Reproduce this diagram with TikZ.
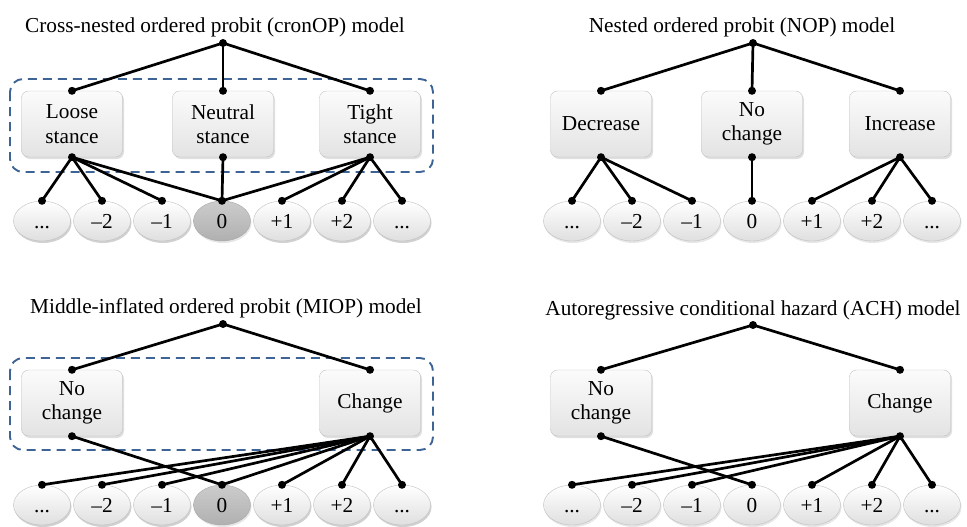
\documentclass[tikz,border=0pt]{standalone}
\usepackage{fontspec}
\setmainfont{Liberation Serif}
\usepackage{xcolor}
\usetikzlibrary{positioning, shapes.geometric, shadows}
\definecolor{dashblue}{RGB}{62,100,150}

\begin{document}
\begin{tikzpicture}[
    x=1pt, y=-1pt,
    every node/.style={font=\fontsize{21.3}{24.5}\selectfont},
    box/.style={draw=gray!50, rounded corners=7pt, align=center, minimum width=101pt, minimum height=66pt,
        top color=gray!3, bottom color=gray!22, drop shadow={opacity=0.25, shadow xshift=1.5pt, shadow yshift=-2pt}},
    cat/.style={ellipse, draw=gray!50, minimum width=57pt, minimum height=40pt, inner sep=0pt,
        text height=14.4pt, text depth=0pt,
        top color=white, bottom color=gray!25, drop shadow={opacity=0.2, shadow xshift=1pt, shadow yshift=-2pt}},
    zero/.style={top color=gray!40, bottom color=gray!62, draw=gray!70},
    link/.style={line width=2.7pt},
    group/.style={draw=dashblue, line width=1.9pt, dash pattern=on 9pt off 6pt, rounded corners=13pt}
]
\useasboundingbox (0,0) rectangle (967,527);

% --- Cross-nested ordered probit ---
\node at (215,27) {Cross-nested ordered probit (cronOP) model};
\draw[group] (10,79) rectangle (433,172);
\coordinate (c_root) at (223,43);
\node[box] (c_loose) at (72,124) {Loose\\stance};
\node[box] (c_neutral) at (223,124) {Neutral\\stance};
\node[box] (c_tight) at (370,124) {Tight\\stance};
\foreach \i/\lab/\sty in {1/{...}/cat, 2/{--2}/cat, 3/{--1}/cat, 4/0/zero, 5/{+1}/cat, 6/{+2}/cat, 7/{...}/cat}
    \node[cat, style=\sty] (c_e\i) at (42+60*\i-60,221) {\lab};

\draw[link] (c_root) -- (c_loose.north);
\draw[link] (c_root) -- (c_neutral.north);
\draw[link] (c_root) -- (c_tight.north);
\foreach \i in {1,2,3,4}
    \draw[link] (c_loose.south) -- (c_e\i.north);
\draw[link] (c_neutral.south) -- (c_e4.north);
\foreach \i in {4,5,6,7}
    \draw[link] (c_tight.south) -- (c_e\i.north);
\foreach \p in {c_root, c_loose.north, c_neutral.north, c_tight.north, c_loose.south, c_neutral.south, c_tight.south,
    c_e1.north, c_e2.north, c_e3.north, c_e4.north, c_e5.north, c_e6.north, c_e7.north}
    \fill (\p) circle (4pt);

% --- Nested ordered probit ---
\node at (742,27) {Nested ordered probit (NOP) model};
\coordinate (n_root) at (753,43);
\node[box] (n_dec) at (601,124) {Decrease};
\node[box] (n_none) at (752,124) {No\\change};
\node[box] (n_inc) at (900,124) {Increase};
\foreach \i/\lab in {1/{...}, 2/{--2}, 3/{--1}, 4/0, 5/{+1}, 6/{+2}, 7/{...}}
    \node[cat] (n_e\i) at (572+60*\i-60,221) {\lab};

\draw[link] (n_root) -- (n_dec.north);
\draw[link] (n_root) -- (n_none.north);
\draw[link] (n_root) -- (n_inc.north);
\foreach \i in {1,2,3}
    \draw[link] (n_dec.south) -- (n_e\i.north);
\draw[link] (n_none.south) -- (n_e4.north);
\foreach \i in {5,6,7}
    \draw[link] (n_inc.south) -- (n_e\i.north);
\foreach \p in {n_root, n_dec.north, n_none.north, n_inc.north, n_dec.south, n_none.south, n_inc.south,
    n_e1.north, n_e2.north, n_e3.north, n_e4.north, n_e5.north, n_e6.north, n_e7.north}
    \fill (\p) circle (4pt);

% --- Middle-inflated ordered probit ---
\node at (226,308) {Middle-inflated ordered probit (MIOP) model};
\draw[group] (10,358) rectangle (433,450);
\coordinate (m_root) at (223,324);
\node[box] (m_none) at (72,403) {No\\change};
\node[box] (m_change) at (370,403) {Change};
\foreach \i/\lab/\sty in {1/{...}/cat, 2/{--2}/cat, 3/{--1}/cat, 4/0/zero, 5/{+1}/cat, 6/{+2}/cat, 7/{...}/cat}
    \node[cat, style=\sty] (m_e\i) at (42+60*\i-60,505) {\lab};

\draw[link] (m_root) -- (m_none.north);
\draw[link] (m_root) -- (m_change.north);
\draw[link] (m_none.south) -- (m_e4.north);
\foreach \i in {1,...,7}
    \draw[link] (m_change.south) -- (m_e\i.north);
\foreach \p in {m_root, m_none.north, m_change.north, m_none.south, m_change.south,
    m_e1.north, m_e2.north, m_e3.north, m_e4.north, m_e5.north, m_e6.north, m_e7.north}
    \fill (\p) circle (4pt);

% --- Autoregressive conditional hazard ---
\node at (753,310) {Autoregressive conditional hazard (ACH) model};
\coordinate (a_root) at (753,325);
\node[box] (a_none) at (601,403) {No\\change};
\node[box] (a_change) at (900,403) {Change};
\foreach \i/\lab in {1/{...}, 2/{--2}, 3/{--1}, 4/0, 5/{+1}, 6/{+2}, 7/{...}}
    \node[cat] (a_e\i) at (572+60*\i-60,505) {\lab};

\draw[link] (a_root) -- (a_none.north);
\draw[link] (a_root) -- (a_change.north);
\draw[link] (a_none.south) -- (a_e4.north);
\foreach \i in {1,2,3,5,6,7}
    \draw[link] (a_change.south) -- (a_e\i.north);
\foreach \p in {a_root, a_none.north, a_change.north, a_none.south, a_change.south,
    a_e1.north, a_e2.north, a_e3.north, a_e4.north, a_e5.north, a_e6.north, a_e7.north}
    \fill (\p) circle (4pt);

\end{tikzpicture}
\end{document}
